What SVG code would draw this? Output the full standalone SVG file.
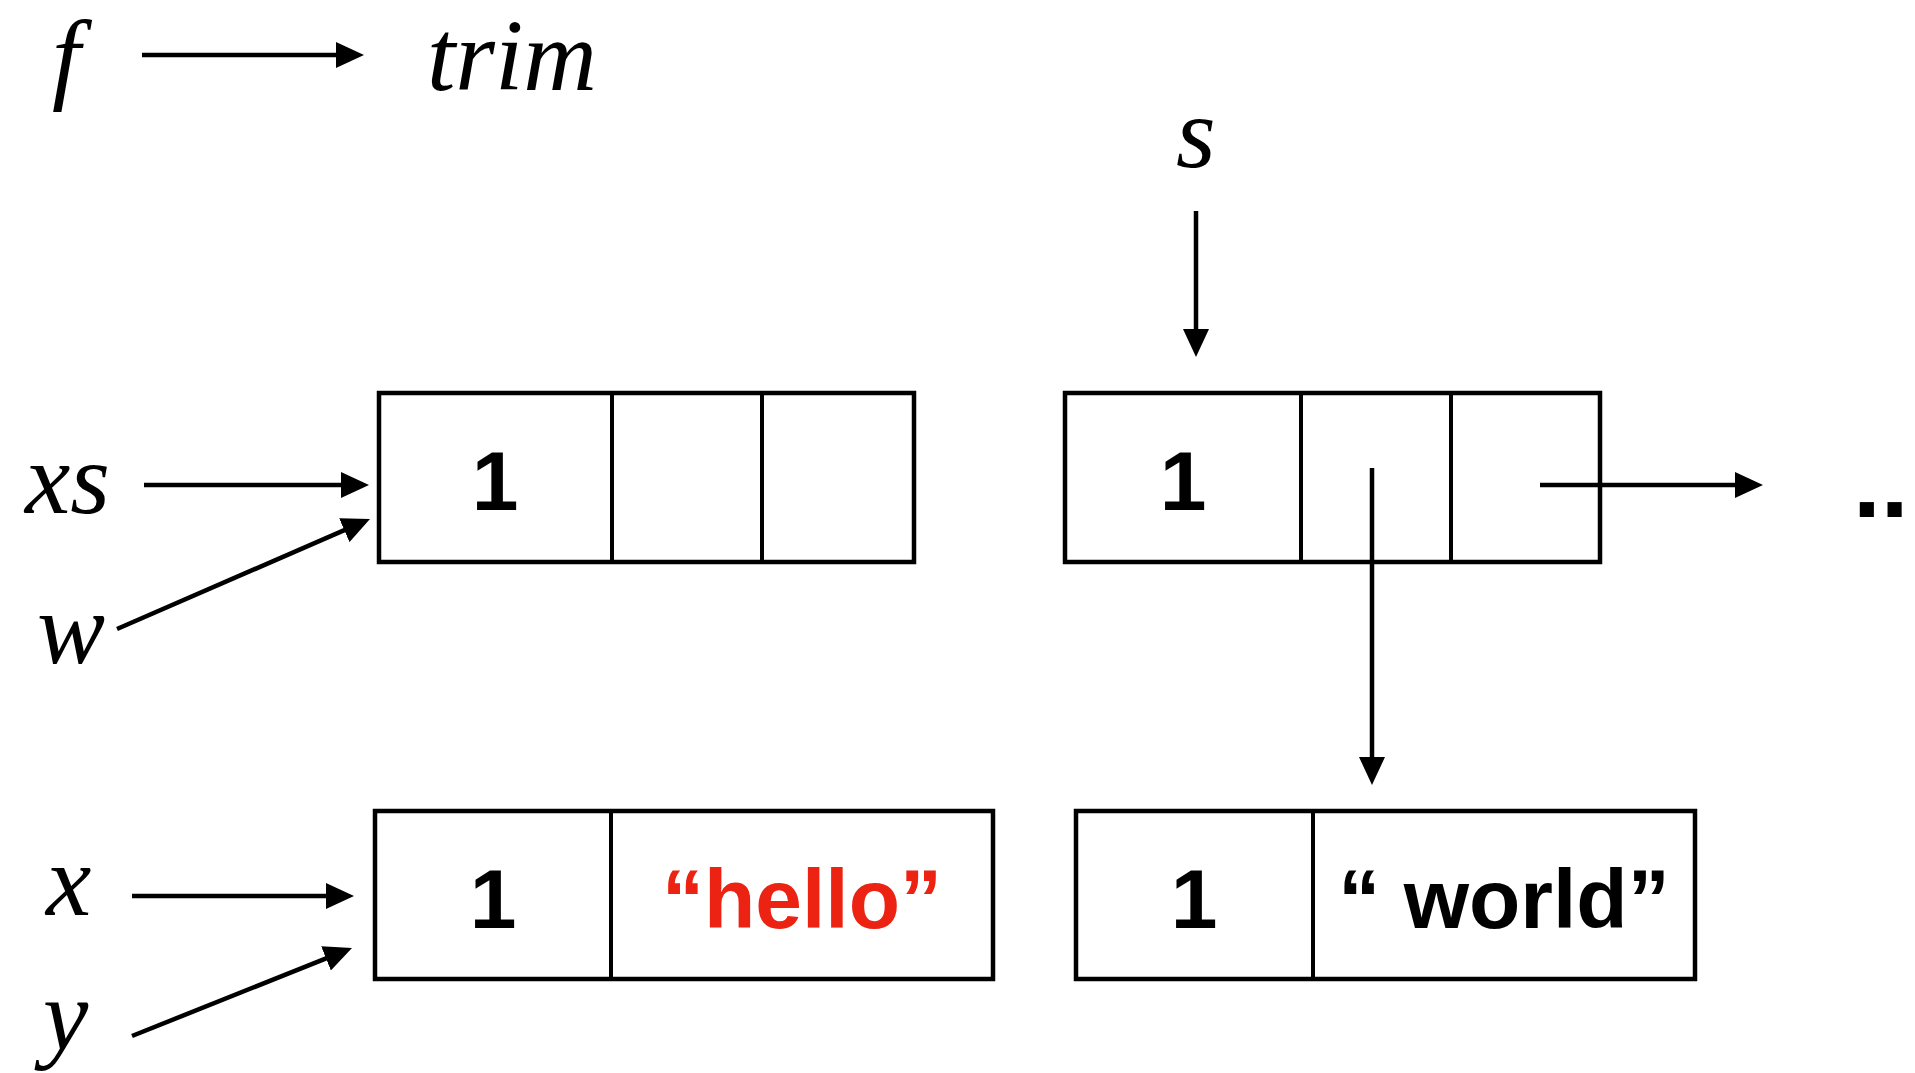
<svg xmlns="http://www.w3.org/2000/svg" width="1915" height="1073" viewBox="0 0 1915 1073">
<style>
.lbl{font-family:"Liberation Serif","Times New Roman",serif;font-style:italic;font-size:102px;fill:#000}
.val{font-family:"Liberation Sans",Arial,sans-serif;font-weight:bold;font-size:84px;fill:#000;text-anchor:middle}
.box{fill:#fff;stroke:#000;stroke-width:4.5}
.div{stroke:#000;stroke-width:4}
.con{stroke:#000;stroke-width:4.5;fill:none;marker-end:url(#ah)}
</style>
<defs>
<marker id="ah" markerUnits="userSpaceOnUse" markerWidth="28" markerHeight="26" refX="17" refY="13" orient="auto">
<path d="M0,0 L28,13 L0,26 Z" fill="#000"/>
</marker>
</defs>
<rect width="1915" height="1073" fill="#fff"/>

<g id="label-f"><text class="lbl" x="52" y="90">f</text></g>
<g id="label-trim"><text class="lbl" x="427" y="90" font-size="94">trim</text></g>
<g id="label-s"><text class="lbl" x="1176" y="167">s</text></g>
<g id="label-xs"><text class="lbl" x="25" y="513">xs</text></g>
<g id="label-w"><text class="lbl" x="37" y="663">w</text></g>
<g id="label-x"><text class="lbl" x="46" y="915">x</text></g>
<g id="label-y"><text class="lbl" x="43" y="1049">y</text></g>

<g id="box-a">
<rect class="box" x="379" y="393" width="535" height="169"/>
<line class="div" x1="612" y1="393" x2="612" y2="562"/>
<line class="div" x1="762" y1="393" x2="762" y2="562"/>
<text class="val" x="495" y="510">1</text>
</g>

<g id="box-b">
<rect class="box" x="1065" y="393" width="535" height="169"/>
<line class="div" x1="1301" y1="393" x2="1301" y2="562"/>
<line class="div" x1="1451" y1="393" x2="1451" y2="562"/>
<text class="val" x="1183" y="510">1</text>
</g>

<g id="box-c">
<rect class="box" x="375" y="811" width="618" height="168"/>
<line class="div" x1="611" y1="811" x2="611" y2="979"/>
<text class="val" x="493" y="928">1</text>
<text class="val" x="802" y="928" style="fill:#EC2212">“hello”</text>
</g>

<g id="box-d">
<rect class="box" x="1076" y="811" width="619" height="168"/>
<line class="div" x1="1313" y1="811" x2="1313" y2="979"/>
<text class="val" x="1194" y="928">1</text>
<text class="val" x="1504" y="928">“ world”</text>
</g>

<g id="more"><text x="1853" y="517" font-family="Liberation Sans, Arial, sans-serif" font-weight="bold" font-size="100">..</text></g>

<g id="connectors">
<line class="con" x1="142" y1="55" x2="353" y2="55"/>
<line class="con" x1="144" y1="485" x2="358" y2="485"/>
<line class="con" x1="117" y1="629" x2="359.9" y2="523.4"/>
<line class="con" x1="132" y1="896" x2="343" y2="896"/>
<line class="con" x1="132" y1="1036" x2="341.8" y2="952.1"/>
<line class="con" x1="1196" y1="211" x2="1196" y2="346"/>
<line class="con" x1="1540" y1="485" x2="1752" y2="485"/>
<line class="con" x1="1372" y1="468" x2="1372" y2="774"/>
</g>
</svg>
